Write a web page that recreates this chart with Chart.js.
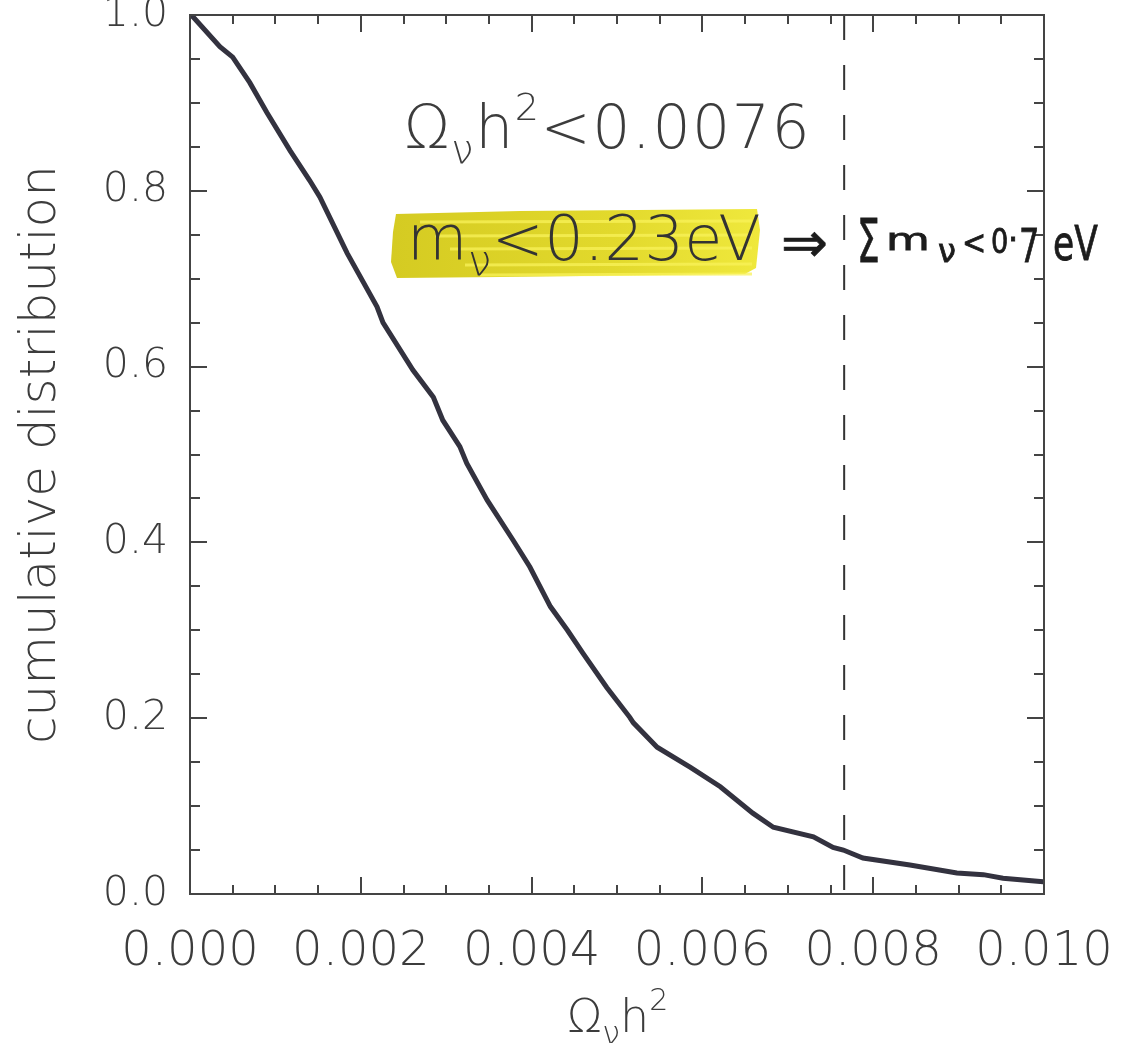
<!DOCTYPE html>
<html>
<head>
<meta charset="utf-8">
<script src="https://cdn.jsdelivr.net/npm/chart.js@4.4.1/dist/chart.umd.min.js"></script>
<style>
html, body { margin: 0; padding: 0; background: #fff; }
canvas { display: block; }
</style>
</head>
<body>
<canvas id="chart" width="1121" height="1043"></canvas>
<script>
// values
const omegaH2 = [0, 0.000035, 0.00035, 0.0005, 0.0007, 0.0009, 0.00117, 0.0014, 0.00152, 0.00184,
  0.00219, 0.00226, 0.00261, 0.00285, 0.00296, 0.00316, 0.00324, 0.00348, 0.00378, 0.00398,
  0.00422, 0.00442, 0.0046, 0.00488, 0.00515, 0.00519, 0.00547, 0.00586, 0.00621, 0.00659,
  0.00683, 0.0073, 0.00753, 0.00765, 0.00788, 0.00843, 0.00898, 0.00929, 0.00952, 0.00999];
const cumDist = [1.0, 0.998, 0.964, 0.952, 0.923, 0.889, 0.846, 0.812, 0.793, 0.729,
  0.668, 0.650, 0.596, 0.565, 0.539, 0.509, 0.490, 0.448, 0.403, 0.372,
  0.327, 0.300, 0.274, 0.235, 0.201, 0.195, 0.167, 0.144, 0.122, 0.092,
  0.076, 0.065, 0.053, 0.050, 0.041, 0.033, 0.024, 0.022, 0.018, 0.014];
const xTicks = [0, 0.002, 0.004, 0.006, 0.008, 0.010];
const yTicks = [0, 0.2, 0.4, 0.6, 0.8, 1.0];
const limitValue = 0.00766;

const fontFam = "'DejaVu Sans', sans-serif";
const inkGray = '#3c3c3c';
const penInk = '#1c1c1c';

function drawParts(ctx, x, y, parts, color, weight, spacing) {
  ctx.fillStyle = color;
  ctx.textBaseline = 'alphabetic';
  ctx.textAlign = 'left';
  ctx.letterSpacing = (spacing || 0) + 'px';
  parts.forEach(function (p) {
    ctx.font = weight + ' ' + p.s + 'px ' + fontFam;
    ctx.fillText(p.t, x, y + (p.dy || 0));
    x += ctx.measureText(p.t).width;
  });
  ctx.letterSpacing = '0px';
}

// one pen-written piece, squeezed sideways by sx
function penText(ctx, t, x, y, size, sx) {
  ctx.save();
  ctx.translate(x, y);
  ctx.scale(sx || 1, 1);
  ctx.font = '400 ' + size + 'px ' + fontFam;
  ctx.fillStyle = penInk;
  ctx.strokeStyle = penInk;
  ctx.lineWidth = 0.8;
  ctx.textBaseline = 'alphabetic';
  ctx.textAlign = 'left';
  ctx.fillText(t, 0, 0);
  ctx.strokeText(t, 0, 0);
  ctx.restore();
}

// box with inward ticks on all 4 sides + text notes
const framePlugin = {
  id: 'frame',
  afterDraw(chart) {
    const ctx = chart.ctx;
    const a = chart.chartArea;
    const xs = chart.scales.x, ys = chart.scales.y;
    ctx.save();
    ctx.strokeStyle = '#444';
    ctx.lineWidth = 2;
    ctx.strokeRect(a.left, a.top, a.right - a.left, a.bottom - a.top);
    ctx.beginPath();
    for (let i = 0; i <= 20; i++) {
      const px = Math.round(xs.getPixelForValue(i * 0.0005));
      const len = i % 4 == 0 ? 17 : 9;
      ctx.moveTo(px, a.bottom); ctx.lineTo(px, a.bottom - len);
      ctx.moveTo(px, a.top); ctx.lineTo(px, a.top + len);
    }
    for (let i = 0; i <= 20; i++) {
      const py = Math.round(ys.getPixelForValue(i * 0.05));
      const len = i % 4 == 0 ? 17 : 10;
      ctx.moveTo(a.left, py); ctx.lineTo(a.left + len, py);
      ctx.moveTo(a.right, py); ctx.lineTo(a.right - len, py);
    }
    ctx.stroke();

    // x axis title
    drawParts(ctx, 567, 1032, [
      { t: 'Ω', s: 46 }, { t: 'ν', s: 32, dy: 12 }, { t: 'h', s: 46 }, { t: '2', s: 30, dy: -22 }
    ], inkGray, 200, 0);

    // upper note
    drawParts(ctx, 404, 148, [
      { t: 'Ω', s: 60 }, { t: 'ν', s: 40, dy: 15 }, { t: 'h', s: 60 }, { t: '2', s: 38, dy: -28 },
      { t: '<0.0076', s: 60 }
    ], inkGray, 200, 1.5);

    // yellow marker
    const grad = ctx.createLinearGradient(393, 0, 758, 0);
    grad.addColorStop(0, '#d5cb22');
    grad.addColorStop(0.6, '#e2d92c');
    grad.addColorStop(1, '#efe83c');
    ctx.fillStyle = grad;
    ctx.beginPath();
    ctx.moveTo(396, 214); ctx.lineTo(520, 211); ctx.lineTo(757, 209); ctx.lineTo(760, 230);
    ctx.lineTo(756, 268); ctx.lineTo(745, 274); ctx.lineTo(500, 277); ctx.lineTo(397, 278);
    ctx.lineTo(391, 262); ctx.lineTo(393, 232);
    ctx.closePath();
    ctx.fill();
    ctx.strokeStyle = 'rgba(248,242,90,0.75)';
    ctx.lineWidth = 3;
    [222, 236, 249, 265, 275].forEach(function (yy, k) {
      ctx.beginPath(); ctx.moveTo(420 + k * 15, yy); ctx.lineTo(752, yy - 1); ctx.stroke();
    });

    drawParts(ctx, 407, 260, [
      { t: 'm', s: 62 }, { t: 'ν', s: 42, dy: 15 }, { t: '<0.23eV', s: 62 }
    ], '#333', 200, 0.5);

    // pen-written part
    penText(ctx, '⇒', 781, 262, 56, 1.0);
    penText(ctx, 'Σ', 857, 262, 60, 0.6);
    penText(ctx, 'm', 886, 250, 30, 1.5);
    penText(ctx, 'ν', 938, 262, 32, 1.0);
    penText(ctx, '<', 962, 254, 34, 0.85);
    penText(ctx, '0', 991, 253, 34, 0.8);
    penText(ctx, '·', 1008, 250, 32, 1.0);
    penText(ctx, '7', 1019, 262, 46, 0.7);
    penText(ctx, 'eV', 1053, 260, 48, 0.72);
    ctx.restore();
  }
};

new Chart(document.getElementById('chart'), {
  type: 'scatter',
  data: {
    datasets: [
      {
        label: 'cumulative',
        data: omegaH2.map((v, i) => ({ x: v, y: cumDist[i] })),
        showLine: true,
        borderColor: '#33323f',
        borderWidth: 5,
        pointRadius: 0,
        tension: 0
      },
      {
        label: 'limit',
        data: [{ x: limitValue, y: 1 }, { x: limitValue, y: 0 }],
        showLine: true,
        borderColor: '#333',
        borderWidth: 2,
        borderDash: [25, 25],
        pointRadius: 0
      }
    ]
  },
  options: {
    responsive: false,
    animation: false,
    layout: { padding: { top: 15, right: 77, left: 0, bottom: 0 } },
    plugins: {
      legend: { display: false },
      tooltip: { enabled: false }
    },
    scales: {
      x: {
        type: 'linear',
        min: 0,
        max: 0.010,
        afterBuildTicks: (s) => { s.ticks = xTicks.map(v => ({ value: v })); },
        afterFit: (s) => { s.height = 149; s.paddingLeft = 0; s.paddingRight = 0; },
        ticks: {
          callback: (v) => v.toFixed(3),
          font: { family: fontFam, size: 48, weight: 200 },
          color: inkGray,
          padding: 30,
          maxRotation: 0
        },
        grid: { display: false, drawTicks: false },
        border: { display: false }
      },
      y: {
        min: 0,
        max: 1,
        afterBuildTicks: (s) => { s.ticks = yTicks.map(v => ({ value: v })); },
        afterFit: (s) => { s.width = 190; s.paddingTop = 0; s.paddingBottom = 0; },
        ticks: {
          callback: (v) => v.toFixed(1),
          font: { family: fontFam, size: 41, weight: 200 },
          color: inkGray,
          padding: 22
        },
        grid: { display: false, drawTicks: false },
        border: { display: false },
        title: {
          display: true,
          text: 'cumulative distribution',
          font: { family: fontFam, size: 50, weight: 200 },
          color: inkGray,
          padding: { top: 12, bottom: 0 }
        }
      }
    }
  },
  plugins: [framePlugin]
});
</script>
</body>
</html>
